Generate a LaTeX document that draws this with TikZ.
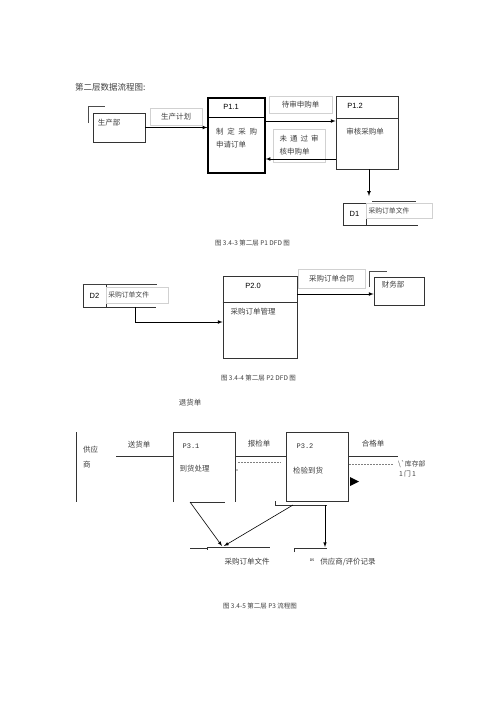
\documentclass[tikz,border=0pt]{standalone}
\usepackage{fontspec}
\setsansfont{Liberation Sans}
\setmonofont{Liberation Mono}
\newfontfamily\cjk{Noto Sans CJK SC}
\usetikzlibrary{positioning, arrows}

\begin{document}
\begin{tikzpicture}[x=1pt, y=-1pt, >=latex,
     node distance = 3pt and 3pt,
       proc/.style = {rectangle, draw=black!80, line width=0.6pt, inner sep=0pt},
       note/.style = {rectangle, draw=black!18, line width=0.5pt, inner sep=0pt,
                      text=black!75, font=\cjk\fontsize{7.5}{13}\selectfont},
        txt/.style = {inner sep=0pt, text=black!75, font=\cjk\fontsize{7.5}{13}\selectfont},
      small/.style = {inner sep=0pt, text=black!75, font=\cjk\fontsize{6.8}{9}\selectfont},
     figcap/.style = {inner sep=0pt, text=black!75, font=\cjk\fontsize{6.5}{8}\selectfont},
        pid/.style = {inner sep=0pt, font=\sffamily\fontsize{7.5}{9}\selectfont},
       mono/.style = {inner sep=0pt, text=black!80, font=\ttfamily\fontsize{7}{9}\selectfont},
       flow/.style = {->, line width=0.7pt},
       dots/.style = {black!50, dash pattern=on 2pt off 1pt, line width=0.4pt}
                        ]
\useasboundingbox[fill=white] (0,0) rectangle (500,707);
% P1
\node (title)[txt, anchor=west, font=\cjk\fontsize{8.5}{10}\selectfont] at (75,87) {第二层数据流程图:};
\node (scb)  [proc, minimum width=52pt, minimum height=29pt] at (119,127.5) {};
\node (scbt) [txt, below right=6pt and 5pt of scb.north west] {生产部};
\draw[black!70] (88,123) |- (105,106);
\node (plan) [note, minimum width=52pt, minimum height=17pt] at (176,116.5) {生产计划};
\node (p11)  [proc, draw=black, line width=1.1pt, minimum width=57pt, minimum height=75pt] at (236.5,135.5) {};
\draw[line width=0.6pt] ([yshift=-20pt]p11.north west) -- ([yshift=-20pt]p11.north east);
\node (p11id)[pid] at (231,107) {P1.1};
\node (p11t) [txt, align=left, anchor=north west] at (216,128) {制\hspace{3.6pt}定\hspace{3.6pt}采\hspace{3.6pt}购\\申请订单};
\node (wait) [note, minimum width=63pt, minimum height=17pt] at (300.5,104.5) {待审申购单};
\node (p12)  [proc, minimum width=62pt, minimum height=73pt] at (367,132.5) {};
\draw[black!80] ([yshift=-22pt]p12.north west) -- ([yshift=-22pt]p12.north east);
\node (p12id)[pid] at (355,106) {P1.2};
\node (p12t) [txt] at (365,132) {审核采购单};
\node (fail) [note, align=left, minimum width=52pt, minimum height=33pt] at (299,145.5) {未\hspace{3pt}通\hspace{3pt}过\hspace{3pt}审\\核申购单};
\node (d1)   [proc, pid, minimum width=23pt, minimum height=22pt] at (354.5,214) {D1};
\node (d1f)  [note, small, anchor=north west, text width=62pt, inner xsep=2pt, minimum height=15pt] at (d1.north east) {采购订单文件};
\draw[black!75] (372,201) -- (416,201);
\draw[black!80] (d1.south west) -- ++(75,0);
\coordinate (d1in) at (369,196);
\draw[flow] (scb) -- (scb -| p11.west);
\draw[flow] (p11.east |- 0,121) -- (p12.west |- 0,121);
\draw[flow] (p12.west |- 0,159) -- (p11.east |- 0,159);
\draw[flow] (p12.south -| d1in) -- (d1in);
\node (cap1) [figcap] at (252.5,243) {图 3.4-3 第二层 P1 DFD 图};
% P2
\node (d2)   [proc, pid, minimum width=23pt, minimum height=23pt] at (94.5,295.5) {D2};
\node (d2f)  [note, small, anchor=north west, text width=58pt, inner xsep=2pt, minimum height=16pt] at (106,287) {采购订单文件};
\draw[black!75] (d2.north west) -- ++(74,0);
\draw[black!80] (d2.south east) -- ++(50,0);
\node (p20)  [proc, minimum width=74pt, minimum height=82pt] at (260,317) {};
\draw[black!80] ([yshift=-26pt]p20.north west) -- ([yshift=-26pt]p20.north east);
\node (p20id)[pid] at (253,286) {P2.0};
\node (p20t) [txt] at (253,312) {采购订单管理};
\node (cont) [note, minimum width=67pt, minimum height=19pt] at (331.5,278.5) {采购订单合同};
\node (cw)   [proc, minimum width=50pt, minimum height=28pt] at (399,291) {};
\node (cwt)  [txt, below right=4pt and 8pt of cw.north west] {财务部};
\draw[black!70] (369,287) |- (387,271);
\coordinate (d2out) at (135,307);
\draw[flow] (d2out) |- (p20.west |- 0,322);
\draw[flow] (p20.east |- 0,294) -- (cw.west |- 0,294);
\node (cap2) [figcap] at (258.5,378) {图 3.4-4 第二层 P2 DFD 图};
% P3
\node (ret)  [txt] at (190,403) {退货单};
\draw[black!80] (76,432) -- (76,502);
\node (gys)  [txt, align=left, anchor=north west, font=\cjk\fontsize{7.5}{15}\selectfont] at (83,446) {供应\\商};
\node (p31)  [inner sep=0pt, minimum width=62pt, minimum height=70pt] at (204,467) {};
\draw[black!80] (p31.south west) |- (p31.north east) -- (p31.south east);
\draw[black!80] ([xshift=17pt]p31.south west) -- ([xshift=-10pt]p31.south east);
\node (p31id)[mono] at (191,446) {P3.1};
\node (p31t) [txt] at (194.5,469) {到货处理};
\node (p32)  [proc, minimum width=62pt, minimum height=69pt] at (317,466.5) {};
\node (p32id)[mono] at (305,446) {P3.2};
\node (p32t) [txt] at (308,471) {检验到货};
\coordinate (gin) at (116,456);
\coordinate (qout) at (398,456);
\draw[black!80] (gin) -- (gin -| p31.west);
\node (shd)  [txt] at (139,445) {送货单};
\draw[black!80] (p31.east |- gin) -- (p32.west |- gin);
\node (bjd)  [txt] at (259,444) {报检单};
\draw[dots] (238,462) -- (281,462);
\node (mark) [inner sep=0pt, font=\fontsize{4}{4}\selectfont] at (237,471) {»};
\draw[black!80] (p32.east |- qout) -- (qout);
\node (hgd)  [txt] at (373,444) {合格单};
\draw[dots] (349,464) -- (393,464);
\node (kc1)  [small, anchor=west] at (398,464) {\textbackslash\textasciigrave 库存部};
\node (kc2)  [small, anchor=west] at (399,473.5) {1\,门\,1};
\fill (350,477) -- (359,481.5) -- (350,486) -- cycle;
\draw[black!80] (p32.south west -| 275,0) |- (327,505);
\draw[black!80] (190,548) -- (207,548);
\draw[black!80] (207,549.5) |- (270,547);
\draw[black!80] (294,552) |- (327,548);
\coordinate (s1) at (190,502);
\coordinate (s2) at (293,505);
\coordinate (s3) at (325,505);
\coordinate (d3a) at (222,546);
\coordinate (d3b) at (224,546);
\coordinate (d5a) at (325,547);
\draw[flow, line width=0.6pt] (s1) -- (d3a);
\draw[flow, line width=0.6pt] (s2) -- (d3b);
\draw[flow, line width=0.6pt] (s3) -- (d5a);
\node (d3)   [txt] at (247,562) {采购订单文件};
\node (d5id) [inner sep=0pt, font=\sffamily\fontsize{3.5}{4}\selectfont] at (312,560) {D5};
\node (d5)   [txt] at (348,562) {供应商/评价记录};
\node (cap3) [figcap] at (260,606) {图 3.4-5 第二层 P3 流程图};
\end{tikzpicture}
\end{document}
